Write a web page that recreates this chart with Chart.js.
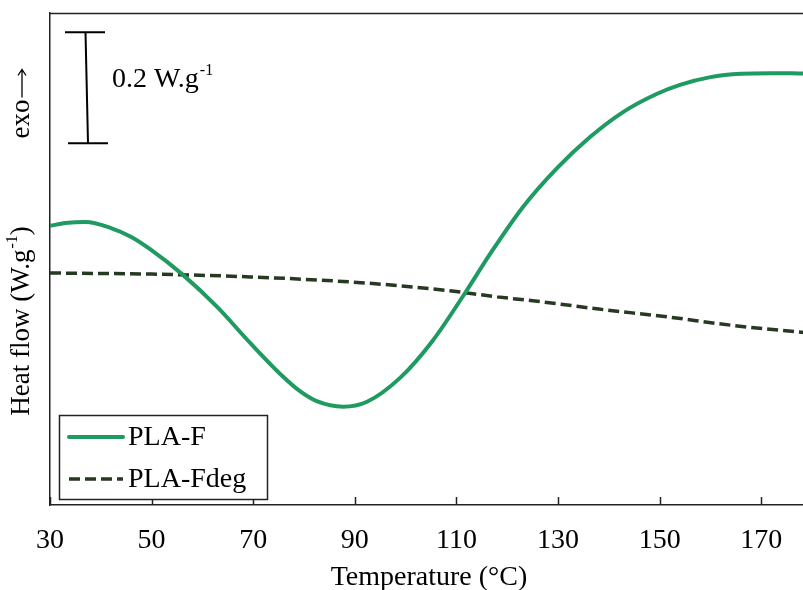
<!DOCTYPE html>
<html>
<head>
<meta charset="utf-8">
<script src="https://cdn.jsdelivr.net/npm/chart.js@4.4.1/dist/chart.umd.min.js"></script>
<style>
  html, body { margin: 0; padding: 0; background: #fff; overflow: hidden; }
  #wrap { width: 803px; height: 590px; overflow: hidden; position: relative; }
  canvas { display: block; }
</style>
</head>
<body>
<div id="wrap"><canvas id="c" width="808" height="590"></canvas></div>
<script>
// ---- data ----
const xTicks = [30, 50, 70, 90, 110, 130, 150, 170];
const tempF = [30, 33, 37, 42, 46, 49.7, 56, 62.9, 69.4, 75.9, 79.2, 82.5, 87.7, 92.4, 98.9, 105.4, 111.7, 116.6, 123.1, 129.8, 136.3, 142.8, 149.5, 154, 160, 166, 172, 176, 179.2];
const heatF = [0.503, 0.508, 0.510, 0.499, 0.483, 0.461, 0.416, 0.357, 0.292, 0.231, 0.205, 0.187, 0.177, 0.186, 0.229, 0.297, 0.382, 0.452, 0.537, 0.607, 0.663, 0.708, 0.741, 0.757, 0.771, 0.777, 0.778, 0.778, 0.777];
const tempDeg = [30, 50, 69.4, 89, 98.9, 108.7, 118, 125, 130.4, 138, 151.5, 164, 179.2];
const heatDeg = [0.418, 0.416, 0.411, 0.402, 0.395, 0.386, 0.375, 0.368, 0.362, 0.353, 0.339, 0.324, 0.310];
const seriesLabels = ['PLA-F', 'PLA-Fdeg'];
const scaleBarValue = 0.2;      // W/g
const scaleBarTop = 0.852;      // W/g (top of the bar)

const FONT = '"Liberation Serif", "Times New Roman", serif';
const GREEN = '#1f9a60';
const DARK = '#263a22';

const toPts = (xs, ys) => xs.map((x, i) => ({ x: x, y: ys[i] }));

const decor = {
  id: 'decor',
  afterDraw(chart) {
    const ctx = chart.ctx;
    const a = chart.chartArea;
    const xs = chart.scales.x, ys = chart.scales.y;
    ctx.save();
    // top border
    ctx.strokeStyle = '#222';
    ctx.lineWidth = 1.5;
    ctx.beginPath();
    ctx.moveTo(a.left, a.top + 0.5);
    ctx.lineTo(a.right, a.top + 0.5);
    ctx.stroke();
    // inward ticks
    ctx.beginPath();
    xTicks.forEach(t => {
      const px = Math.round(xs.getPixelForValue(t)) + 0.5;
      ctx.moveTo(px, a.bottom);
      ctx.lineTo(px, a.bottom - 8);
    });
    ctx.stroke();

    // scale bar
    const yTop = ys.getPixelForValue(scaleBarTop);
    const yBot = ys.getPixelForValue(scaleBarTop - scaleBarValue);
    ctx.strokeStyle = '#000';
    ctx.lineWidth = 2;
    ctx.beginPath();
    ctx.moveTo(a.left + 15, yTop); ctx.lineTo(a.left + 55, yTop);
    ctx.moveTo(a.left + 18, yBot); ctx.lineTo(a.left + 58, yBot);
    ctx.moveTo(a.left + 35.5, yTop); ctx.lineTo(a.left + 38, yBot);
    ctx.stroke();
    ctx.fillStyle = '#000';
    ctx.textBaseline = 'alphabetic';
    ctx.textAlign = 'left';
    ctx.font = '28px ' + FONT;
    const sbText = scaleBarValue + ' W.g';
    const tx = a.left + 62, ty = (yTop + yBot) / 2 - 1;
    ctx.fillText(sbText, tx, ty);
    const w1 = ctx.measureText(sbText).width;
    ctx.font = '16px ' + FONT;
    ctx.fillText('-1', tx + w1 + 1, ty - 12);

    // y-axis labels (rotated)
    ctx.save();
    ctx.translate(29, 0);
    ctx.rotate(-Math.PI / 2);
    ctx.textBaseline = 'alphabetic';
    // exo arrow
    ctx.font = '27px ' + FONT;
    const exo1 = 'exo';
    const ew1 = ctx.measureText(exo1).width;
    const arrowLen = 28;
    const exoStart = -104 - (ew1 + arrowLen + 2) / 2;
    ctx.fillText(exo1, exoStart, 0);
    ctx.strokeStyle = '#000';
    ctx.lineWidth = 1.3;
    const ax0 = exoStart + ew1 + 2, ax1 = ax0 + arrowLen, ay = -7;
    ctx.beginPath();
    ctx.moveTo(ax0, ay); ctx.lineTo(ax1, ay);
    ctx.moveTo(ax1 - 6, ay - 4); ctx.lineTo(ax1, ay); ctx.lineTo(ax1 - 6, ay + 4);
    ctx.stroke();
    // Heat flow (W.g-1)
    const p1 = 'Heat flow (W.g', p2 = '-1', p3 = ')';
    ctx.font = '27px ' + FONT;
    const w_1 = ctx.measureText(p1).width, w_3 = ctx.measureText(p3).width;
    ctx.font = '16px ' + FONT;
    const w_2 = ctx.measureText(p2).width;
    const total = w_1 + w_2 + w_3 + 1;
    let sx = -321 - total / 2;
    ctx.font = '27px ' + FONT;
    ctx.fillText(p1, sx, 0);
    ctx.font = '16px ' + FONT;
    ctx.fillText(p2, sx + w_1 + 1, -12);
    ctx.font = '27px ' + FONT;
    ctx.fillText(p3, sx + w_1 + w_2 + 1, 0);
    ctx.restore();

    // legend box
    const lx = a.left + 9, ly = 415, lw = 208, lh = 84;
    ctx.fillStyle = '#fff';
    ctx.fillRect(lx, ly, lw, lh);
    ctx.strokeStyle = '#222';
    ctx.lineWidth = 1.5;
    ctx.strokeRect(lx + 0.5, ly + 0.5, lw, lh);
    const rows = [437, 479];
    chart.data.datasets.forEach((ds, i) => {
      const yy = rows[i];
      ctx.strokeStyle = ds.borderColor;
      ctx.lineWidth = ds.borderWidth;
      ctx.setLineDash(ds.borderDash || []);
      ctx.lineCap = ds.borderDash ? 'butt' : 'round';
      ctx.beginPath();
      ctx.moveTo(lx + 10, yy);
      ctx.lineTo(lx + 64, yy);
      ctx.stroke();
      ctx.setLineDash([]);
      ctx.fillStyle = '#000';
      ctx.font = '28px ' + FONT;
      ctx.textBaseline = 'middle';
      ctx.fillText(ds.label, lx + 69, yy + 1);
    });
    ctx.restore();
  }
};

new Chart(document.getElementById('c'), {
  type: 'line',
  data: {
    datasets: [
      {
        label: seriesLabels[0],
        data: toPts(tempF, heatF),
        borderColor: GREEN,
        borderWidth: 4,
        pointRadius: 0,
        cubicInterpolationMode: 'monotone',
        fill: false
      },
      {
        label: seriesLabels[1],
        data: toPts(tempDeg, heatDeg),
        borderColor: DARK,
        borderWidth: 3.5,
        borderDash: [11, 5],
        pointRadius: 0,
        cubicInterpolationMode: 'monotone',
        fill: false
      }
    ]
  },
  options: {
    responsive: false,
    animation: false,
    layout: { padding: { top: 13, left: 0, right: 0, bottom: 0 } },
    plugins: { legend: { display: false }, tooltip: { enabled: false } },
    scales: {
      x: {
        type: 'linear',
        min: 30,
        max: 179.2,
        afterFit: s => { s.height = 85; },
        afterBuildTicks: s => { s.ticks = xTicks.map(v => ({ value: v })); },
        grid: { display: false, drawTicks: false },
        border: { display: true, color: '#222', width: 1.5 },
        ticks: {
          color: '#000',
          font: { family: FONT, size: 28 },
          padding: 19,
          maxRotation: 0,
          autoSkip: false
        },
        title: {
          display: true,
          text: 'Temperature (\u00B0C)',
          color: '#000',
          font: { family: FONT, size: 28, lineHeight: 1 },
          padding: { top: 0, bottom: -2 }
        }
      },
      y: {
        type: 'linear',
        min: 0,
        max: 0.8865,
        afterFit: s => { s.width = 50; },
        grid: { display: false, drawTicks: false },
        border: { display: true, color: '#222', width: 1.5 },
        ticks: { display: false }
      }
    }
  },
  plugins: [decor]
});
</script>
</body>
</html>
